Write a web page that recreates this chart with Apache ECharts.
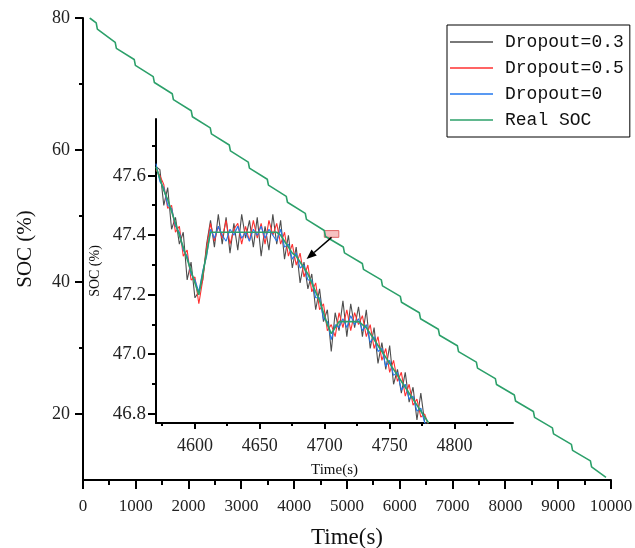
<!DOCTYPE html>
<html><head><meta charset="utf-8">
<script src="https://cdn.jsdelivr.net/npm/echarts@6/dist/echarts.min.js"></script>
<style>html,body{margin:0;padding:0;background:#fff}#c{width:635px;height:548px}</style>
</head><body><div id="c"></div>
<script>
const seriesNames = ['Dropout=0.3', 'Dropout=0.5', 'Dropout=0', 'Real SOC'];
const seriesColors = ['#4d4d4d', '#ff3030', '#2277ee', '#2ca06a'];

const mainXTicks = [0, 1000, 2000, 3000, 4000, 5000, 6000, 7000, 8000, 9000, 10000];
const mainXMinor = [500, 1500, 2500, 3500, 4500, 5500, 6500, 7500, 8500, 9500];
const mainYTicks = [20, 40, 60, 80];
const mainYMinor = [30, 50, 70];
const insetXTicks = [4600, 4650, 4700, 4750, 4800];
const insetXMinor = [4575, 4625, 4675, 4725, 4775, 4825];
const insetYTicks = [46.8, 47.0, 47.2, 47.4, 47.6];
const insetYMinor = [46.9, 47.1, 47.3, 47.5, 47.7];
const mainXRange = [0, 10000];
const mainYRange = [10, 80];
const insetXRange = [4570, 4845];
const insetYRange = [46.77, 47.79];
const arrowTarget = [4686, 47.32];

const mainTime = [127, 250, 272, 610, 632, 970, 992, 1330, 1352, 1690, 1712, 2050, 2072, 2410, 2432, 2770, 2792, 3130, 3152, 3490, 3512, 3850, 3872, 4210, 4232, 4570, 4592, 4930, 4952, 5290, 5312, 5650, 5672, 6010, 6032, 6370, 6392, 6730, 6752, 7090, 7112, 7450, 7472, 7810, 7832, 8170, 8192, 8530, 8552, 8890, 8912, 9250, 9272, 9610, 9632, 9905];
const mainSoc = [80.00, 79.25, 78.30, 76.30, 75.40, 73.72, 72.82, 71.12, 70.22, 68.53, 67.63, 65.94, 65.04, 63.35, 62.45, 60.76, 59.86, 58.16, 57.26, 55.57, 54.67, 52.98, 52.08, 50.39, 49.49, 47.80, 46.90, 45.31, 44.41, 42.81, 41.91, 40.32, 39.42, 37.83, 36.93, 35.34, 34.44, 32.84, 31.94, 30.35, 29.45, 27.86, 26.96, 25.36, 24.46, 22.87, 21.97, 20.38, 19.48, 17.89, 16.99, 15.39, 14.49, 12.90, 12.00, 10.40];

const insetTime = [4570,4573,4576,4579,4582,4585,4588,4591,4594,4597,4600,4603,4606,4609,4612,4615,4618,4621,4624,4627,4630,4633,4636,4639,4642,4645,4648,4651,4654,4657,4660,4663,4666,4669,4672,4675,4678,4681,4684,4687,4690,4693,4696,4699,4702,4705,4708,4711,4714,4717,4720,4723,4726,4729,4732,4735,4738,4741,4744,4747,4750,4753,4756,4759,4762,4765,4768,4771,4774,4777,4780];
const insetReal = [47.63,47.59,47.55,47.52,47.48,47.44,47.40,47.36,47.32,47.28,47.24,47.20,
  47.27,47.34,47.41,
  47.41,47.41,47.41,47.41,47.41,47.41,47.41,47.41,47.41,47.41,47.41,47.41,47.41,47.41,47.41,47.41,47.41,47.40,
  47.38,47.36,47.34,47.33,47.31,47.29,47.27,47.24,47.21,47.18,47.14,47.10,47.07,
  47.09,47.11,47.11,47.11,47.11,47.11,47.11,47.10,47.09,
  47.07,47.05,47.03,47.01,46.99,46.97,46.95,46.93,46.91,46.89,46.87,46.85,46.83,46.81,46.79,46.77];
const insetDrop03 = [47.63,47.62,47.50,47.56,47.42,47.46,47.37,47.41,47.25,47.31,47.19,47.21,
  47.25,47.37,47.45,
  47.36,47.47,47.37,47.46,47.34,47.44,47.35,47.47,47.39,47.45,47.36,47.46,47.33,47.43,47.35,47.47,47.37,47.45,
  47.32,47.40,47.29,47.36,47.24,47.31,47.22,47.27,47.15,47.22,47.11,47.15,47.01,
  47.14,47.08,47.18,47.06,47.17,47.09,47.16,47.06,47.15,
  47.02,47.09,46.97,47.04,46.95,47.03,46.90,46.95,46.87,46.94,46.84,46.89,46.78,46.87,46.77,46.77];
const insetDrop05 = [47.62,47.60,47.57,47.49,47.50,47.41,47.43,47.33,47.35,47.25,47.26,47.17,
  47.25,47.36,47.44,
  47.38,47.43,47.39,47.45,47.37,47.42,47.44,47.37,47.43,47.38,47.45,47.39,47.44,47.37,47.45,47.40,47.44,47.37,
  47.41,47.33,47.37,47.30,47.34,47.26,47.30,47.21,47.24,47.15,47.17,47.08,47.10,
  47.06,47.14,47.09,47.15,47.08,47.14,47.10,47.13,47.06,
  47.10,47.02,47.06,46.98,47.02,46.94,46.98,46.91,46.94,46.86,46.90,46.83,46.85,46.79,46.80,46.76];
const insetDrop0 = [47.64,47.58,47.56,47.50,47.49,47.43,47.41,47.35,47.33,47.27,47.25,47.21,
  47.28,47.33,47.42,
  47.39,47.43,47.40,47.38,47.42,47.40,47.43,47.39,47.41,47.38,47.42,47.40,47.43,47.39,47.42,47.40,47.38,47.42,
  47.36,47.37,47.32,47.34,47.29,47.30,47.25,47.25,47.19,47.19,47.12,47.11,47.05,
  47.10,47.09,47.12,47.09,47.13,47.10,47.12,47.08,47.10,
  47.04,47.06,47.01,47.02,46.96,46.98,46.93,46.94,46.88,46.90,46.85,46.86,46.81,46.82,46.77,46.76];

const zip = (xs, ys) => xs.map((x, i) => [x, ys[i]]);
const SERIF = 'Liberation Serif';
const AX = { show: true, lineStyle: { color: '#000', width: 2 } };
const plain = v => String(v);

const chart = echarts.init(document.getElementById('c'), null, { renderer: 'canvas' });

const insetSeries = [insetDrop03, insetDrop05, insetDrop0, insetReal].map((d, i) => ({
  name: seriesNames[i], type: 'line', xAxisIndex: 1, yAxisIndex: 1,
  data: zip(insetTime, d), symbol: 'none', showSymbol: false, animation: false,
  lineStyle: { color: seriesColors[i], width: i === 3 ? 1.6 : 1.1 },
  itemStyle: { color: seriesColors[i] }, z: 3 + i
}));

chart.setOption({
  animation: false,
  backgroundColor: '#fff',
  grid: [
    { left: 83, right: 24, top: 18, bottom: 68, containLabel: false, outerBoundsMode: 'none' },
    { left: 156, right: 122, top: 119, bottom: 125, containLabel: false, outerBoundsMode: 'none' }
  ],
  legend: {
    data: seriesNames, orient: 'vertical', left: 447, top: 25,
    padding: [7, 6, 7, 3], itemGap: 6, itemWidth: 43, itemHeight: 1.6, icon: 'rect',
    backgroundColor: '#fff', borderColor: '#000', borderWidth: 1,
    textStyle: { fontFamily: 'Liberation Mono', fontSize: 18, color: '#111', lineHeight: 20, padding: [0, 0, 0, 7] }
  },
  xAxis: [
    { type: 'value', gridIndex: 0, position: 'bottom', min: mainXRange[0], max: mainXRange[1],
      name: 'Time(s)', nameLocation: 'middle', nameGap: 46,
      nameTextStyle: { fontFamily: SERIF, fontSize: 23, color: '#111' },
      axisLine: AX, axisTick: { show: false },
      axisLabel: { show: true, customValues: mainXTicks, fontFamily: SERIF, fontSize: 17, color: '#222', margin: 18, formatter: plain },
      splitLine: { show: false } },
    { type: 'value', gridIndex: 1, position: 'bottom', min: insetXRange[0], max: insetXRange[1],
      name: 'Time(s)', nameLocation: 'middle', nameGap: 40,
      nameTextStyle: { fontFamily: SERIF, fontSize: 15, color: '#111' },
      axisLine: AX, axisTick: { show: false },
      axisLabel: { show: true, customValues: insetXTicks, fontFamily: SERIF, fontSize: 18, color: '#222', margin: 14, formatter: plain },
      splitLine: { show: false } }
  ],
  yAxis: [
    { type: 'value', gridIndex: 0, position: 'left', min: mainYRange[0], max: mainYRange[1],
      name: 'SOC (%)', nameLocation: 'middle', nameGap: 47,
      nameTextStyle: { fontFamily: SERIF, fontSize: 21, color: '#111' },
      axisLine: AX, axisTick: { show: false },
      axisLabel: { show: true, customValues: mainYTicks, fontFamily: SERIF, fontSize: 18, color: '#222', margin: 13 },
      splitLine: { show: false } },
    { type: 'value', gridIndex: 1, position: 'left', min: insetYRange[0], max: insetYRange[1],
      name: 'SOC (%)', nameLocation: 'middle', nameGap: 40,
      nameTextStyle: { fontFamily: SERIF, fontSize: 14, color: '#111' },
      axisLine: AX, axisTick: { show: false },
      axisLabel: { show: true, customValues: insetYTicks, fontFamily: SERIF, fontSize: 19, color: '#222', margin: 10,
        formatter: v => Number(v).toFixed(1) },
      splitLine: { show: false } }
  ],
  series: [
    { name: seriesNames[3], type: 'line', xAxisIndex: 0, yAxisIndex: 0,
      data: zip(mainTime, mainSoc), symbol: 'none', showSymbol: false, z: 2,
      lineStyle: { color: seriesColors[3], width: 1.6 }, itemStyle: { color: seriesColors[3] },
      markArea: { silent: true,
        itemStyle: { color: 'rgba(235,120,120,0.45)', borderColor: '#e06666', borderWidth: 1 },
        data: [[{ coord: [insetXRange[0], insetYRange[1]] }, { coord: [insetXRange[1], insetYRange[0]] }]] } }
  ].concat(insetSeries)
});

// ticks, placed through the axes' own scales
const gfx = [];
const tickStyle = { stroke: '#000', lineWidth: 2 };
function xTicks(grid, vals, yBase, len) {
  vals.forEach(v => {
    const p = chart.convertToPixel({ gridIndex: grid }, [v, yBase]);
    const x = Math.round(p[0]);
    gfx.push({ type: 'line', shape: { x1: x, y1: p[1], x2: x, y2: p[1] + len }, style: tickStyle, z: 50 });
  });
}
function yTicks(grid, vals, xBase, len) {
  vals.forEach(v => {
    const p = chart.convertToPixel({ gridIndex: grid }, [xBase, v]);
    const y = Math.round(p[1]);
    gfx.push({ type: 'line', shape: { x1: p[0], y1: y, x2: p[0] - len, y2: y }, style: tickStyle, z: 50 });
  });
}
xTicks(0, mainXTicks, mainYRange[0], 9);
xTicks(0, mainXMinor, mainYRange[0], 5);
yTicks(0, mainYTicks, mainXRange[0], 8);
yTicks(0, mainYMinor, mainXRange[0], 4);
xTicks(1, insetXTicks, insetYRange[0], 6);
xTicks(1, insetXMinor, insetYRange[0], 3);
yTicks(1, insetYTicks, insetXRange[0], 8);
yTicks(1, insetYMinor, insetXRange[0], 4);

// arrow from zoom box to inset
const p0 = chart.convertToPixel({ gridIndex: 0 }, [(insetXRange[0] + insetXRange[1]) / 2, insetYRange[0]]);
const p1 = chart.convertToPixel({ gridIndex: 1 }, arrowTarget);
const dx = p1[0] - p0[0], dy = p1[1] - p0[1];
const len = Math.hypot(dx, dy), ux = dx / len, uy = dy / len;
const hl = 10, hw = 4;
const bx = p1[0] - ux * hl, by = p1[1] - uy * hl;
gfx.push({ type: 'line', shape: { x1: p0[0], y1: p0[1], x2: bx, y2: by }, style: { stroke: '#000', lineWidth: 1.5 }, z: 100 });
gfx.push({ type: 'polygon', shape: { points: [[p1[0], p1[1]], [bx - uy * hw, by + ux * hw], [bx + uy * hw, by - ux * hw]] },
  style: { fill: '#000' }, z: 100 });
chart.setOption({ graphic: gfx });
</script></body></html>
